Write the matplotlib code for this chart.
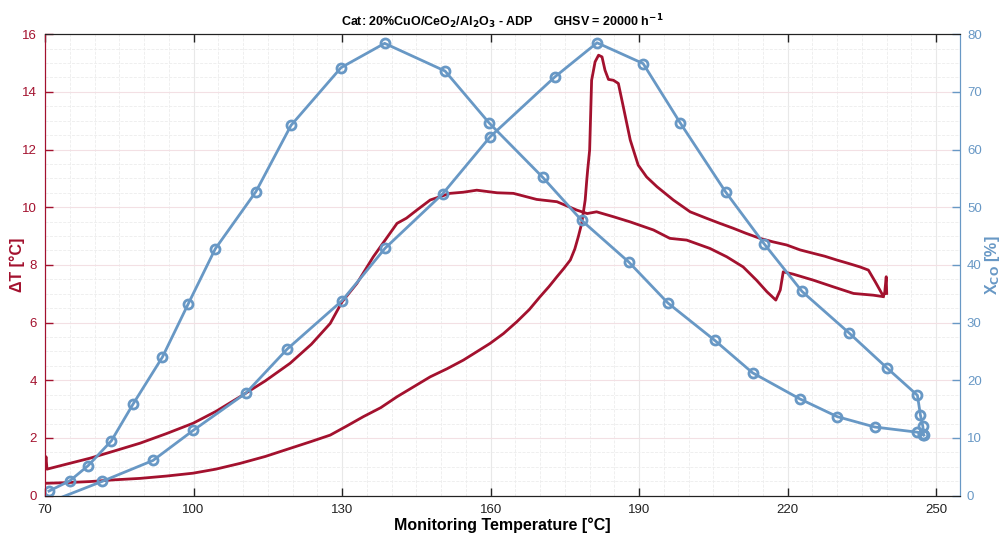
import numpy as np
import matplotlib.pyplot as plt
from matplotlib.ticker import MultipleLocator

plt.rcParams['font.family'] = ['Liberation Sans', 'DejaVu Sans']

RED = '#A3112E'
BLUE = '#6898C5'

# conversion X_CO [%] -- run with peak near 138 C
t_co_a = [70.8, 75.05, 78.7, 83.4, 87.8, 93.7, 98.9, 104.4, 112.6, 119.7, 129.8, 138.6,
          150.8, 159.7, 170.5, 178.4, 187.9, 195.8, 205.3, 212.9, 222.4, 230.0, 237.6,
          246.2, 247.3]
x_co_a = [0.8, 2.6, 5.2, 9.5, 15.9, 24.0, 33.2, 42.8, 52.7, 64.2, 74.2, 78.4,
          73.6, 64.6, 55.2, 47.7, 40.5, 33.4, 26.9, 21.3, 16.8, 13.7, 11.9,
          11.0, 10.6]

# conversion X_CO [%] -- run with peak near 181 C
t_co_b = [70.9, 81.6, 91.8, 99.9, 110.6, 118.9, 130.0, 138.7, 150.3, 159.9, 173.0, 181.5,
          190.8, 198.3, 207.5, 215.2, 222.9, 232.4, 240.1, 246.2, 246.8, 247.3, 247.4, 247.5]
x_co_b = [-1.1, 2.5, 6.1, 11.3, 17.8, 25.4, 33.8, 42.9, 52.3, 62.2, 72.6, 78.5,
          74.9, 64.6, 52.6, 43.7, 35.4, 28.2, 22.1, 17.4, 14.0, 12.0, 10.7, 10.5]

# delta T -- ignition curve
t_dt_1 = [70.0, 74.0, 79.1, 84.0, 89.2, 94.5, 99.9, 104.5, 109.4, 114.5, 119.5, 123.8, 127.6,
          131.0, 134.3, 137.8, 141.1, 144.5, 147.8, 151.2, 154.5, 157.3, 159.9, 162.6, 165.3,
          167.8, 170.0, 171.8, 173.4, 174.8, 176.1, 177.0, 177.7, 178.4, 179.1, 179.4, 179.6,
          180.0, 180.4, 181.1, 181.8, 182.5, 183.1, 183.8, 184.8, 185.8, 186.8, 188.2, 189.8,
          191.5, 193.6, 196.9, 200.3, 203.7, 206.3, 209.0, 211.5, 214.4, 217.0, 219.8, 222.5,
          225.2, 227.5, 229.9, 232.3, 234.6, 236.3, 237.7, 239.0, 239.3, 239.6, 239.9, 240.0]
dt_1 = [0.43, 0.45, 0.49, 0.55, 0.60, 0.68, 0.78, 0.92, 1.12, 1.36, 1.64, 1.88, 2.10,
        2.42, 2.74, 3.05, 3.43, 3.78, 4.12, 4.40, 4.70, 5.00, 5.28, 5.62, 6.03,
        6.45, 6.90, 7.25, 7.59, 7.88, 8.17, 8.55, 8.97, 9.44, 10.25, 10.9, 11.29,
        11.98, 14.40, 15.04, 15.27, 15.21, 14.75, 14.43, 14.40, 14.29, 13.48, 12.33, 11.46,
        11.05, 10.71, 10.25, 9.84, 9.61, 9.44, 9.27, 9.10, 8.92, 8.80, 8.69, 8.52,
        8.40, 8.30, 8.17, 8.05, 7.93, 7.82, 7.41, 7.01, 6.90, 7.05, 7.59, 7.01]

# delta T -- second curve
t_dt_2 = [70.0, 70.2, 70.4, 74.5, 79.1, 84.0, 89.2, 94.5, 99.9, 104.5, 109.4, 114.5, 119.5,
          123.8, 127.6, 130.0, 133.0, 136.3, 138.7, 141.1, 143.0, 145.1, 147.8, 151.8, 154.5,
          157.2, 161.3, 164.6, 169.3, 173.4, 177.4, 179.5, 181.4, 184.8, 188.2, 192.9, 196.2,
          199.6, 204.3, 207.7, 211.0, 213.7, 215.8, 217.6, 218.5, 219.1, 221.1, 225.2, 229.2,
          233.3, 237.3, 239.3]
dt_2 = [0.95, 1.35, 0.92, 1.10, 1.30, 1.55, 1.82, 2.15, 2.51, 2.92, 3.43, 3.98, 4.59,
        5.25, 5.97, 6.72, 7.36, 8.28, 8.86, 9.44, 9.62, 9.90, 10.25, 10.48, 10.52,
        10.59, 10.50, 10.48, 10.27, 10.19, 9.90, 9.78, 9.84, 9.67, 9.49, 9.21, 8.92,
        8.86, 8.57, 8.28, 7.93, 7.47, 7.07, 6.78, 7.13, 7.76, 7.68, 7.47, 7.24,
        7.01, 6.95, 6.90]

xticks = [70, 100, 130, 160, 190, 220, 250]

fig = plt.figure(figsize=(10, 5.33), dpi=100)
ax = fig.add_axes([0.045, 0.070, 0.915, 0.866])
ax2 = ax.twinx()

ax.plot(t_dt_1, dt_1, color=RED, lw=2.0)
ax.plot(t_dt_2, dt_2, color=RED, lw=2.0)
ax2.plot(t_co_a, x_co_a, color=BLUE, lw=2.0, marker='o', ms=6.5, mfc='none', mew=2.0)
ax2.plot(t_co_b, x_co_b, color=BLUE, lw=2.0, marker='o', ms=6.5, mfc='none', mew=2.0)

ax.set_xlim(70, 254.8)
ax.set_ylim(0, 16)
ax2.set_ylim(0, 80)
ax.set_xticks(xticks)
ax.set_yticks(np.arange(0, 17, 2))
ax2.set_yticks(np.arange(0, 81, 10))

# grid
ax.xaxis.set_minor_locator(MultipleLocator(5))
ax.yaxis.set_minor_locator(MultipleLocator(0.5))
ax.grid(which='major', axis='x', color='#e8e8e8', lw=0.8)
ax.grid(which='major', axis='y', color='#f3e0e4', lw=0.8)
ax.grid(which='minor', color='#ededed', lw=0.6, ls='--')
ax.set_axisbelow(True)

ax.tick_params(axis='x', which='major', direction='in', length=6, width=1, top=True,
               labelsize=9.5, pad=6, colors='#222222')
ax.tick_params(axis='y', which='major', direction='in', length=6, width=1,
               labelsize=9.5, colors=RED, pad=6)
ax.tick_params(which='minor', length=0)
ax2.tick_params(axis='y', which='major', direction='in', length=6, width=1,
                labelsize=9.5, colors=BLUE, pad=5)
ax2.tick_params(which='minor', length=0)

for a in (ax, ax2):
    a.spines['left'].set_color(RED)
    a.spines['right'].set_color(BLUE)
    a.spines['top'].set_color('#222222')
    a.spines['bottom'].set_color('#222222')

ax.set_xlabel('Monitoring Temperature [°C]', fontsize=11.5, fontweight='bold', labelpad=1)
ax.set_ylabel('ΔT [°C]', fontsize=11.5, fontweight='bold', color=RED)
ax.yaxis.set_label_coords(-0.022, 0.5)
ax2.set_ylabel('X$_{\\mathbf{CO}}$ [%]', fontsize=11.5, fontweight='bold', color=BLUE,
               rotation=90)
ax2.yaxis.set_label_coords(1.025, 0.5)
ax.set_title('Cat: 20%CuO/CeO$_\\mathbf{2}$/Al$_\\mathbf{2}$O$_\\mathbf{3}$ - ADP      '
             'GHSV = 20000 h$^\\mathbf{-1}$', fontsize=9, fontweight='bold', pad=6)

fig.savefig('out.png', dpi=100)
